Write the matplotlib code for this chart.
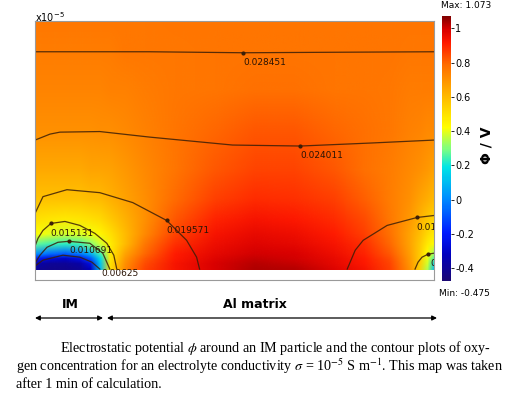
import numpy as np
import matplotlib
matplotlib.use("Agg")
import matplotlib.pyplot as plt
from matplotlib.colors import LinearSegmentedColormap, Normalize
from matplotlib.image import NonUniformImage
from matplotlib.patches import Rectangle, FancyArrowPatch

plt.rcParams['axes.unicode_minus'] = False
plt.rcParams['mathtext.fontset'] = 'stix'

# ---------------- data ----------------
# grid nodes of the potential map (micrometres)
x_nodes = [0, 1.5, 3, 4.5, 5.5, 6.5, 7.5, 9, 11, 14, 18, 22, 26, 30, 33, 35.5, 37.5, 38.5, 39.3, 40]
y_nodes = [0, 0.5, 1.0, 1.5, 2.5, 3.5, 5, 7, 10, 14, 18, 22, 25]

# potential phi (V), one row per y node
phi_rows = [
    [-0.40, -0.42, -0.42, -0.40, -0.32, 0.10, 0.50, 0.72, 0.85, 0.93, 0.99, 1.03, 1.02, 0.98, 0.93, 0.86, 0.70, 0.55, 0.35, 0.10],
    [-0.36, -0.40, -0.40, -0.37, -0.25, 0.12, 0.50, 0.70, 0.84, 0.93, 0.99, 1.02, 1.01, 0.97, 0.92, 0.85, 0.69, 0.56, 0.38, 0.15],
    [-0.20, -0.28, -0.30, -0.24, -0.10, 0.17, 0.48, 0.68, 0.82, 0.92, 0.98, 1.01, 1.00, 0.96, 0.91, 0.84, 0.68, 0.56, 0.40, 0.25],
    [0.02, -0.05, -0.08, -0.02, 0.08, 0.25, 0.47, 0.65, 0.80, 0.91, 0.97, 1.00, 0.99, 0.95, 0.90, 0.82, 0.67, 0.56, 0.43, 0.32],
    [0.28, 0.25, 0.23, 0.25, 0.30, 0.38, 0.47, 0.60, 0.76, 0.88, 0.95, 0.98, 0.97, 0.93, 0.88, 0.80, 0.66, 0.57, 0.48, 0.42],
    [0.42, 0.40, 0.38, 0.39, 0.41, 0.45, 0.50, 0.60, 0.72, 0.85, 0.93, 0.96, 0.95, 0.91, 0.86, 0.78, 0.66, 0.59, 0.52, 0.47],
    [0.50, 0.49, 0.48, 0.49, 0.50, 0.52, 0.56, 0.62, 0.70, 0.82, 0.90, 0.93, 0.92, 0.89, 0.84, 0.76, 0.68, 0.62, 0.57, 0.53],
    [0.58, 0.58, 0.58, 0.58, 0.59, 0.60, 0.62, 0.66, 0.71, 0.79, 0.86, 0.89, 0.88, 0.86, 0.81, 0.75, 0.70, 0.66, 0.63, 0.60],
    [0.64, 0.64, 0.64, 0.64, 0.65, 0.65, 0.66, 0.68, 0.72, 0.77, 0.82, 0.85, 0.85, 0.82, 0.78, 0.75, 0.72, 0.70, 0.68, 0.66],
    [0.70, 0.70, 0.70, 0.70, 0.70, 0.71, 0.71, 0.72, 0.74, 0.77, 0.80, 0.82, 0.82, 0.80, 0.78, 0.76, 0.74, 0.73, 0.72, 0.72],
    [0.73, 0.73, 0.73, 0.73, 0.73, 0.73, 0.74, 0.74, 0.75, 0.76, 0.77, 0.78, 0.78, 0.77, 0.77, 0.76, 0.75, 0.75, 0.75, 0.75],
    [0.75, 0.75, 0.75, 0.75, 0.75, 0.75, 0.75, 0.76, 0.76, 0.76, 0.77, 0.77, 0.77, 0.77, 0.77, 0.77, 0.76, 0.76, 0.76, 0.76],
    [0.76, 0.76, 0.76, 0.76, 0.76, 0.76, 0.76, 0.76, 0.76, 0.77, 0.77, 0.77, 0.77, 0.77, 0.77, 0.77, 0.77, 0.77, 0.77, 0.77],
]

phi_min = -0.475
phi_max = 1.073
cbar_ticks = [-0.4, -0.2, 0, 0.2, 0.4, 0.6, 0.8, 1]

# oxygen-concentration contour lines (x, y in micrometres)
c_labels = ["0.028451", "0.024011", "0.019571", "0.015131", "0.010691", "0.00625",
            "0.01", "0"]
c_x = [
    [0, 11.5, 20.9, 30, 40],
    [0, 1.5, 2.5, 6.5, 11.5, 19.8, 26.6, 33.6, 40],
    [0, 0.8, 3.2, 6.5, 9.8, 13.2, 15.2, 16.2, 16.5],
    [0, 0.3, 0.8, 1.6, 3.0, 4.5, 6.0, 7.2, 7.9, 8.2],
    [0, 0.5, 1.2, 2.3, 3.4, 5.5, 6.8, 7.5],
    [0, 0.8, 2.8, 4.5, 5.7, 6.5],
    [31.3, 32.1, 32.9, 35.3, 38.3, 40],
    [38.1, 38.4, 38.8, 39.4, 40],
]
c_y = [
    [21.9, 21.9, 21.8, 21.85, 21.9],
    [13.0, 13.6, 13.8, 13.86, 13.3, 12.5, 12.4, 12.7, 13.0],
    [5.6, 7.3, 8.0, 7.7, 6.7, 4.9, 2.9, 1.2, 0],
    [2.3, 3.1, 3.9, 4.6, 4.8, 4.4, 3.6, 2.6, 1.4, 0],
    [0.6, 1.4, 2.2, 2.7, 2.8, 2.6, 1.6, 0],
    [0.3, 0.9, 1.4, 1.2, 0.7, 0],
    [0, 1.9, 2.9, 4.4, 5.2, 5.4],
    [0, 0.7, 1.2, 1.5, 1.6],
]
# point on each line where its value is written
c_mark_idx = [2, 6, 5, 3, 4, None, 4, 3]

caption = [
    r"Electrostatic potential $\phi$ around an IM particle and the contour plots of oxy-",
    r"gen concentration for an electrolyte conductivity $\sigma$ = 10$^{-5}$ S m$^{-1}$. This map was taken",
    r"after 1 min of calculation.",
]

# ---------------- figure ----------------
W, H = 526, 395
fig = plt.figure(figsize=(W / 100, H / 100), dpi=100)

def fx(px):
    return px / W

def fy(py):
    return 1 - py / H

cmap = LinearSegmentedColormap.from_list("comsol_rainbow", [
    (0.00, (0.10, 0.03, 0.45)),
    (0.10, (0.00, 0.00, 0.75)),
    (0.18, (0.00, 0.10, 1.00)),
    (0.31, (0.00, 0.55, 1.00)),
    (0.43, (0.00, 0.90, 0.90)),
    (0.50, (0.50, 1.00, 0.50)),
    (0.58, (1.00, 1.00, 0.00)),
    (0.70, (1.00, 0.72, 0.00)),
    (0.82, (1.00, 0.42, 0.00)),
    (0.90, (1.00, 0.10, 0.00)),
    (0.95, (0.85, 0.00, 0.00)),
    (1.00, (0.50, 0.00, 0.00)),
])
norm = Normalize(phi_min, phi_max)

ax = fig.add_axes([fx(35), fy(280), fx(434) - fx(35), fy(21) - fy(280)])
ax.set_xlim(0, 40)
ax.set_ylim(-1.1, 25)
im = NonUniformImage(ax, interpolation='bilinear', cmap=cmap, norm=norm,
                     extent=(x_nodes[0], x_nodes[-1], y_nodes[0], y_nodes[-1]))
im.set_data(np.array(x_nodes, float), np.array(y_nodes, float), np.array(phi_rows))
ax.add_image(im)
domain = Rectangle((x_nodes[0], y_nodes[0]), x_nodes[-1] - x_nodes[0],
                   y_nodes[-1] - y_nodes[0], transform=ax.transData)
im.set_clip_path(domain)
ax.set_xlim(0, 40)
ax.set_ylim(-1.1, 25)
ax.set_xticks([])
ax.set_yticks([])
for s in ax.spines.values():
    s.set_color('#9a9a9a')
    s.set_linewidth(0.8)

line_col = '#3b1e08'
for lab, xs, ys, mi in zip(c_labels, c_x, c_y, c_mark_idx):
    ax.plot(xs, ys, color=line_col, lw=0.9, alpha=0.85)
    if mi is not None:
        ax.plot([xs[mi]], [ys[mi]], 'o', color=line_col, ms=2)

lab_kw = dict(fontsize=6.5, color='#2a1405', va='center', ha='left', family='DejaVu Sans')
ax.text(c_x[0][2], 20.8, c_labels[0], **lab_kw)
ax.text(c_x[1][6], 11.4, c_labels[1], **lab_kw)
ax.text(c_x[2][5], 3.9, c_labels[2], **lab_kw)
ax.text(1.5, 3.6, c_labels[3], **lab_kw)
ax.text(3.4, 1.9, c_labels[4], **lab_kw)
ax.text(6.7, -0.4, c_labels[5], clip_on=False, **lab_kw)
ax.text(38.2, 4.2, c_labels[6], clip_on=True, **lab_kw)
ax.text(39.6, 0.6, c_labels[7], clip_on=True, **lab_kw)

fig.text(fx(35), fy(17), r"x10$^{-5}$", fontsize=7, ha='left', va='center',
         family='DejaVu Sans', math_fontfamily='dejavusans')

# colorbar
cax = fig.add_axes([fx(442), fy(281), fx(451) - fx(442), fy(16) - fy(281)])
cb = fig.colorbar(im, cax=cax, ticks=cbar_ticks)
cb.outline.set_visible(False)
cax.tick_params(length=2, width=0.6, pad=1, labelsize=7)
cax.set_yticklabels([("%g" % t) for t in cbar_ticks])
fig.text(fx(441), fy(6), "Max: 1.073", fontsize=6.5, ha='left', va='center')
fig.text(fx(439), fy(294), "Min: -0.475", fontsize=6.5, ha='left', va='center')
fig.text(fx(487), fy(145), "\u03a6 / V", fontsize=10, fontweight='bold', rotation=90,
         ha='center', va='center')

# region annotations
fig.text(fx(70), fy(304), "IM", fontsize=9, fontweight='bold', ha='center', va='center')
fig.text(fx(255), fy(304), "Al matrix", fontsize=9, fontweight='bold', ha='center', va='center')
arrow_kw = dict(arrowstyle='<|-|>', color='black', lw=0.9, mutation_scale=7,
                shrinkA=0, shrinkB=0)
fig.add_artist(FancyArrowPatch((fx(35), fy(318)), (fx(103), fy(318)),
                               transform=fig.transFigure, **arrow_kw))
fig.add_artist(FancyArrowPatch((fx(107), fy(318)), (fx(437), fy(318)),
                               transform=fig.transFigure, **arrow_kw))

# caption
cap_kw = dict(fontsize=10.2, family='Liberation Serif', va='baseline', ha='left')
fig.text(fx(60), fy(352), caption[0], **cap_kw)
fig.text(fx(16), fy(371.5), caption[1], **cap_kw)
fig.text(fx(16), fy(387.5), caption[2], **cap_kw)

fig.savefig("out.png", dpi=100)
